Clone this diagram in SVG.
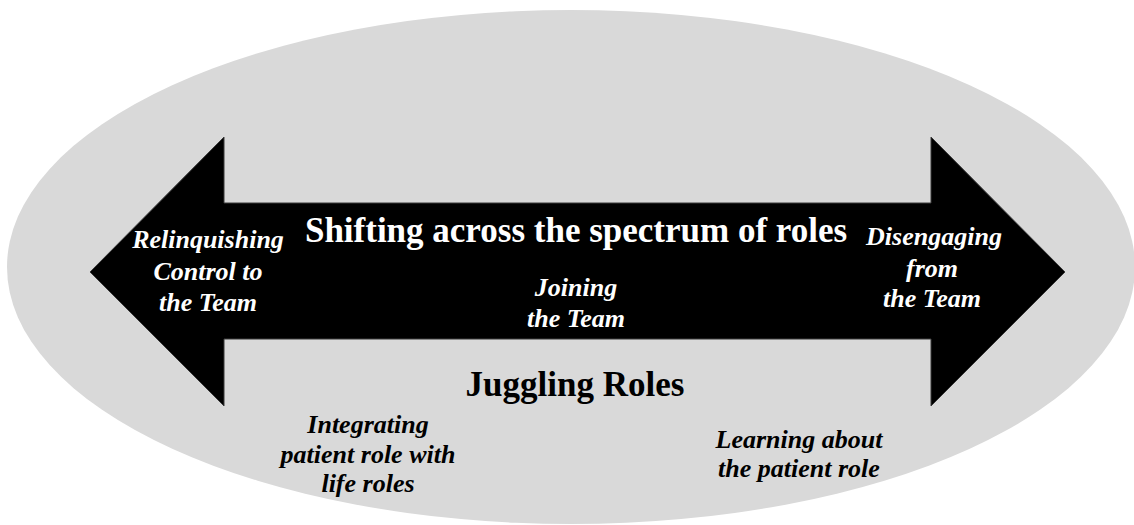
<svg xmlns="http://www.w3.org/2000/svg" width="1134" height="525" viewBox="0 0 1134 525">
<style>
text{font-family:"Liberation Serif","Times New Roman",serif;font-weight:bold;text-anchor:middle}
.t{font-size:35px}
.i{font-size:26px;font-style:italic}
.w{fill:#ffffff}
.k{fill:#000000}
</style>
<rect width="1134" height="525" fill="#ffffff"/>
<g id="background">
<ellipse cx="571" cy="267" rx="564" ry="257" fill="#d9d9d9"/>
</g>
<g id="connectors">
<path id="spectrum-arrow" d="M90,272 L224,137 L224,203 L931,203 L931,137 L1065,272 L931,406 L931,339 L224,339 L224,406 Z" fill="#000000" stroke="#3a3a3a" stroke-width="1"/>
</g>
<g id="title-shifting">
<text class="t w" x="576" y="242">Shifting across the spectrum of roles</text>
</g>
<g id="node-relinquishing">
<text class="i w" x="208" y="248">Relinquishing</text>
<text class="i w" x="208" y="280">Control to</text>
<text class="i w" x="208" y="311">the Team</text>
</g>
<g id="node-joining">
<text class="i w" x="576" y="296">Joining</text>
<text class="i w" x="576" y="327">the Team</text>
</g>
<g id="node-disengaging">
<text class="i w" x="934" y="245">Disengaging</text>
<text class="i w" x="932" y="277">from</text>
<text class="i w" x="932" y="307">the Team</text>
</g>
<g id="title-juggling">
<text class="t k" x="575" y="396">Juggling Roles</text>
</g>
<g id="node-integrating">
<text class="i k" x="368" y="433">Integrating</text>
<text class="i k" x="368" y="463">patient role with</text>
<text class="i k" x="368" y="492">life roles</text>
</g>
<g id="node-learning">
<text class="i k" x="799" y="448">Learning about</text>
<text class="i k" x="799" y="477">the patient role</text>
</g>
</svg>
